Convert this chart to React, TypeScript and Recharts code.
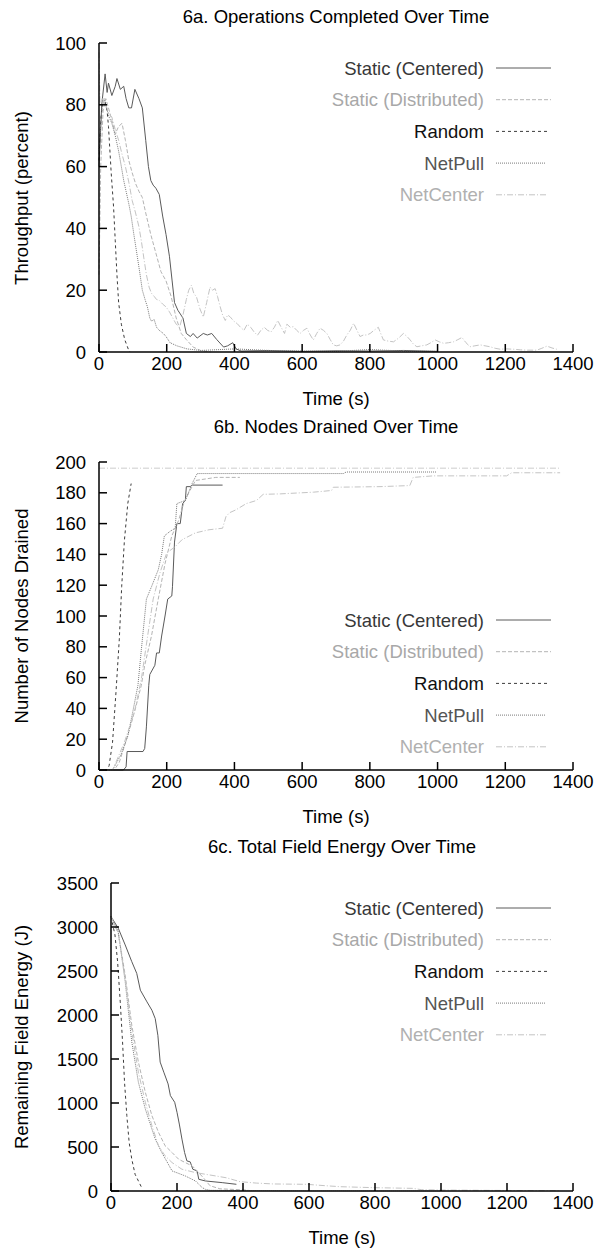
import React from "react";
import { LineChart, Line, XAxis, YAxis, Legend, ReferenceLine } from "recharts";

const FONT = '"Liberation Sans", Arial, Helvetica, sans-serif';
const FS = 18.5;

// axis ticks
const timeTicks = [0, 200, 400, 600, 800, 1000, 1200, 1400];
const opsTicks = [0, 20, 40, 60, 80, 100];
const nodeTicks = [0, 20, 40, 60, 80, 100, 120, 140, 160, 180, 200];
const energyTicks = [0, 500, 1000, 1500, 2000, 2500, 3000, 3500];

const seriesNames = ["Static (Centered)", "Static (Distributed)", "Random", "NetPull", "NetCenter"];

// 6a. throughput (percent), [time, value]
const opsStaticCentered = [
  [0, 60], [8, 80], [18, 90], [24, 84], [28, 87], [38, 83], [48, 86], [53, 88.5], [63, 85], [73, 86],
  [80, 82], [88, 79], [96, 79], [106, 85], [118, 82], [128, 79], [138, 68.5], [146, 60], [153, 55.5],
  [160, 54], [168, 53], [178, 51], [188, 44], [198, 38], [208, 31], [216, 23], [223, 16], [233, 13.5],
  [248, 11], [258, 6], [270, 5], [278, 6], [290, 4.5], [308, 6], [320, 5.5], [333, 6], [348, 4],
  [368, 1.6], [380, 2], [395, 3], [405, 1], [420, 0.3], [500, 0.5], [600, 0.2], [700, 0.4],
  [800, 0.3], [900, 0.5], [1000, 0.2],
];
const opsStaticDistributed = [
  [0, 25], [5, 60], [12, 78], [20, 82], [28, 79], [38, 75], [48, 70.6], [58, 73], [68, 74], [78, 68.5],
  [88, 62], [98, 58], [108, 54.5], [118, 52], [128, 50], [138, 45], [153, 38], [168, 32], [183, 26],
  [198, 23], [213, 18], [228, 11], [243, 6], [258, 4], [278, 1.6], [300, 0.5], [330, 0],
];
const opsRandom = [
  [0, 62], [5, 75], [10, 80], [18, 81], [24, 78], [28, 73], [36, 58], [43, 47], [48, 36], [53, 25],
  [58, 16], [66, 9], [76, 4], [88, 0.5], [92, 0],
];
const opsNetPull = [
  [0, 65], [8, 78], [15, 82], [22, 79], [30, 76], [38, 74], [48, 70], [58, 65], [66, 60], [73, 55.5],
  [80, 52], [88, 48], [95, 44], [103, 38], [113, 31], [120, 26], [128, 20], [136, 17], [143, 14.6],
  [150, 11], [155, 10], [163, 10.5], [170, 8], [178, 7], [190, 6], [198, 5], [210, 3], [230, 2],
  [260, 1], [300, 0.5], [400, 1], [500, 0.5], [600, 0.3], [700, 0.2], [800, 0.8], [900, 0.3], [1000, 0.2],
];
const opsNetCenter = [
  [0, 97], [3, 80], [10, 82], [20, 80], [30, 77], [38, 76], [48, 72], [58, 68.5], [68, 64], [78, 60],
  [88, 55], [98, 49], [108, 45], [118, 40.5], [125, 36], [133, 30], [140, 25], [148, 21], [155, 19],
  [163, 18], [170, 17], [178, 16.7], [188, 15.5], [198, 14.6], [208, 13], [218, 11], [228, 9], [238, 8],
  [248, 12], [258, 17], [265, 20], [273, 21.6], [280, 19], [288, 17.8], [298, 14], [308, 11.3],
  [318, 16], [328, 21], [335, 20], [343, 20.5], [350, 18], [358, 14.6], [365, 12], [373, 10.2],
  [380, 12], [388, 11.3], [398, 10], [408, 9.2], [418, 8], [428, 7], [438, 9], [448, 8], [458, 6.5],
  [468, 5.4], [478, 7], [488, 8], [498, 7], [508, 6.5], [518, 8], [528, 10.2], [538, 8], [548, 6],
  [555, 9], [565, 8], [574, 8.2], [584, 7], [594, 6], [604, 7], [614, 7.7], [624, 5.5], [633, 3.9],
  [643, 6], [653, 7.7], [663, 7], [673, 6], [683, 4], [692, 2.3], [702, 2], [712, 2.3], [722, 3.5],
  [732, 5.5], [742, 7], [752, 9.3], [762, 7], [771, 5], [781, 5.5], [791, 5.5], [801, 6], [812, 7],
  [825, 8], [832, 6], [840, 3.9], [855, 3.5], [870, 3.3], [885, 4.5], [899, 6], [910, 5], [919, 3.9],
  [929, 2.5], [939, 1.7], [953, 2], [968, 2.3], [980, 3], [993, 3.9], [1005, 3.3], [1018, 2.8],
  [1032, 3], [1047, 3.3], [1060, 4], [1072, 4.7], [1084, 3], [1096, 1.7], [1110, 2], [1126, 2.3],
  [1140, 2], [1155, 1.7], [1170, 1.2], [1185, 0.9], [1205, 1], [1224, 0.9], [1245, 0.7], [1264, 0.6],
  [1293, 0.6], [1308, 1.2], [1323, 1.9], [1338, 1.3], [1352, 0.9],
];

// 6b. nodes drained
const nodesStaticCentered = [
  [0, 0], [72, 0], [80, 2], [83, 12], [130, 12], [135, 14], [140, 28], [147, 55], [150, 62], [165, 68],
  [170, 76], [178, 76], [185, 87], [195, 100], [203, 111], [215, 113], [217, 119], [223, 148],
  [230, 160], [240, 160], [247, 173], [255, 175], [258, 184], [270, 184], [275, 185], [365, 185],
];
const nodesStaticDistributed = [
  [0, 0], [45, 0], [60, 5], [80, 19], [95, 30], [110, 42], [125, 55], [135, 68], [155, 87], [175, 111],
  [195, 134], [215, 152], [235, 162], [250, 173], [265, 180], [275, 184], [285, 188], [315, 189],
  [345, 190], [416, 190],
];
const nodesRandom = [
  [0, 0], [25, 0], [30, 3], [40, 18], [50, 50], [60, 85], [67, 119], [75, 149], [85, 173], [95, 186],
];
const nodesNetPull = [
  [0, 0], [40, 0], [45, 2], [65, 10], [85, 22], [100, 38], [115, 55], [125, 78], [140, 111], [155, 119],
  [175, 130], [185, 140], [193, 152], [210, 155], [225, 157], [230, 173], [255, 175], [275, 186],
  [290, 192.5], [722, 192.5], [730, 193.5], [997, 193.5],
];
const nodesNetCenter = [
  [0, 0], [40, 0], [50, 5], [75, 18], [105, 38], [125, 59], [145, 89], [160, 111], [180, 128],
  [200, 141], [225, 145], [245, 149.5], [285, 154], [325, 156], [365, 157], [375, 164.5], [385, 167],
  [405, 169], [435, 173], [465, 175], [485, 179], [535, 179.3], [633, 180.4], [687, 181.5],
  [692, 183.6], [830, 184], [918, 184.7], [928, 190], [987, 191], [1204, 191], [1219, 193], [1362, 193],
];
const totalNodes = 196;
const totalNodesEnd = 1362;

// 6c. remaining field energy (J)
const energyStaticCentered = [
  [0, 3119], [22, 2986], [43, 2796], [63, 2606], [78, 2473], [89, 2282], [109, 2149], [124, 2054],
  [134, 1959], [142, 1769], [149, 1465], [160, 1350], [173, 1217], [180, 1084], [193, 1008], [200, 894],
  [207, 761], [215, 590], [223, 437], [230, 342], [240, 331], [248, 247], [261, 228], [266, 133],
  [286, 114], [337, 95], [380, 76],
];
const energyStaticDistributed = [
  [0, 3119], [22, 2929], [43, 2453], [63, 1883], [83, 1465], [104, 1122], [124, 856], [144, 666],
  [164, 514], [185, 437], [205, 361], [225, 323], [246, 285], [256, 247], [280, 150], [300, 60],
  [330, 25], [416, 10],
];
const energyRandom = [
  [0, 3119], [12, 2910], [20, 2606], [28, 2149], [35, 1693], [41, 1236], [48, 856], [55, 552],
  [63, 361], [73, 190], [83, 114], [93, 38],
];
const energyNetPull = [
  [0, 3119], [22, 2948], [43, 2378], [63, 1693], [83, 1236], [104, 932], [124, 704], [134, 590],
  [154, 437], [170, 330], [185, 228], [205, 200], [225, 171], [256, 114], [276, 40], [286, 19],
  [300, 8], [400, 5], [600, 3], [800, 2], [997, 1],
];
const energyNetCenter = [
  [0, 3119], [22, 2929], [43, 2416], [63, 1807], [83, 1350], [104, 1008], [124, 742], [144, 514],
  [164, 400], [185, 323], [215, 247], [256, 209], [317, 171], [350, 150], [391, 106], [440, 90],
  [492, 80], [593, 76], [650, 60], [694, 49], [795, 38], [916, 30], [940, 15], [997, 11], [1100, 8],
  [1300, 4], [1362, 3],
];

const seriesStyle = [
  { stroke: "#5a5a5a", dash: undefined, text: "#383838", end: 551 },
  { stroke: "#b4b4b4", dash: "4 2", text: "#a8a8a8", end: 551 },
  { stroke: "#3c3c3c", dash: "3 3", text: "#111111", end: 547 },
  { stroke: "#7a7a7a", dash: "1 1", text: "#555555", end: 546 },
  { stroke: "#c4c4c4", dash: "6 2 1 2", text: "#b0b0b0", end: 548 },
];

const toRows = (pts: number[][]) => pts.map(([t, v]) => ({ t, v }));

const BottomTick = (p: any) => (
  <g>
    <line x1={p.x} y1={p.y} x2={p.x} y2={p.y - 8} stroke="#000" strokeWidth={1.5} />
    <text x={p.x} y={p.y + 11} textAnchor="middle" dominantBaseline="central" fontSize={FS} fontFamily={FONT} fill="#000">
      {p.payload.value}
    </text>
  </g>
);

const LeftTick = (p: any) => (
  <g>
    <line x1={p.x} y1={p.y} x2={p.x + 8} y2={p.y} stroke="#000" strokeWidth={1.5} />
    <text x={p.x - 13} y={p.y} textAnchor="end" dominantBaseline="central" fontSize={FS} fontFamily={FONT} fill="#000">
      {p.payload.value}
    </text>
  </g>
);

// keep the gnuplot key order, whatever order the payload comes in
const makeLegend = (props: any) => {
  const payload = props.payload || [];
  const present = new Set(payload.map((e: any) => e.value));
  const names = seriesNames.filter((n) => present.has(n));
  return (
    <svg width={609} height={170} style={{ display: "block" }}>
      {names.map((name, i) => {
        const st = seriesStyle[seriesNames.indexOf(name)];
        const y = 16 + i * 31.7;
        return (
          <g key={name}>
            <text x={484} y={y} textAnchor="end" dominantBaseline="central" fontSize={FS} fontFamily={FONT} fill={st.text}>
              {name}
            </text>
            <line x1={496} x2={st.end} y1={y} y2={y} stroke={st.stroke} strokeDasharray={st.dash} />
          </g>
        );
      })}
    </svg>
  );
};

type PanelProps = {
  top: number;
  height: number;
  plotTop: number;
  plotBottom: number;
  plotLeft: number;
  title: string;
  yLabel: string;
  yTicks: number[];
  series: number[][][];
  legendTop: number;
  refLine?: { y: number; end: number };
};

const PLOT_RIGHT = 573;

const Panel = ({ top, height, plotTop, plotBottom, plotLeft, title, yLabel, yTicks, series, legendTop, refLine }: PanelProps) => {
  const yMax = yTicks[yTicks.length - 1];
  const cx = (plotLeft + PLOT_RIGHT) / 2;
  const textStyle: React.CSSProperties = {
    position: "absolute",
    fontFamily: FONT,
    fontSize: FS,
    lineHeight: "19px",
    whiteSpace: "nowrap",
    color: "#000",
  };
  return (
    <div style={{ position: "absolute", left: 0, top, width: 609, height }}>
      <LineChart
        width={609}
        height={height}
        margin={{ top: plotTop, right: 609 - PLOT_RIGHT, bottom: 0, left: 0 }}
      >
        <XAxis
          xAxisId="b"
          type="number"
          dataKey="t"
          domain={[0, 1400]}
          ticks={timeTicks}
          interval={0}
          height={height - plotBottom}
          tickSize={0}
          tickMargin={0}
          tickLine={false}
          axisLine={{ stroke: "#000", strokeWidth: 1.5 }}
          tick={BottomTick}
        />
        <XAxis
          xAxisId="top"
          orientation="top"
          type="number"
          domain={[0, 1400]}
          ticks={timeTicks}
          interval={0}
          height={0}
          mirror
          tick={false}
          tickSize={8}
          tickLine={{ stroke: "#000", strokeWidth: 1.5 }}
          axisLine={{ stroke: "#000", strokeWidth: 1.5 }}
        />
        <YAxis
          yAxisId="l"
          type="number"
          domain={[0, yMax]}
          ticks={yTicks}
          interval={0}
          width={plotLeft}
          tickSize={0}
          tickMargin={0}
          tickLine={false}
          axisLine={{ stroke: "#000", strokeWidth: 1.5 }}
          tick={LeftTick}
        />
        <YAxis
          yAxisId="r"
          orientation="right"
          type="number"
          domain={[0, yMax]}
          ticks={yTicks}
          interval={0}
          width={0}
          mirror
          tick={false}
          tickSize={8}
          tickLine={{ stroke: "#000", strokeWidth: 1.5 }}
          axisLine={{ stroke: "#000", strokeWidth: 1.5 }}
        />
        {refLine && (
          <ReferenceLine
            xAxisId="b"
            yAxisId="l"
            segment={[{ x: 0, y: refLine.y }, { x: refLine.end, y: refLine.y }]}
            stroke="#cccccc"
            strokeDasharray="6 2 1 2"
            strokeWidth={1}
          />
        )}
        {series.map((pts, i) => (
          <Line
            key={seriesNames[i]}
            xAxisId="b"
            yAxisId="l"
            name={seriesNames[i]}
            data={toRows(pts)}
            dataKey="v"
            type="linear"
            stroke={seriesStyle[i].stroke}
            strokeDasharray={seriesStyle[i].dash}
            strokeWidth={1}
            dot={false}
            activeDot={false}
            isAnimationActive={false}
          />
        ))}
        <Legend
          layout="horizontal"
          verticalAlign="middle"
          align="center"
          content={makeLegend}
          wrapperStyle={{ left: 0, top: legendTop, width: 609, height: 170 }}
        />
      </LineChart>
      <div style={{ ...textStyle, left: cx, top: 16, transform: "translate(-50%, -50%)" }}>{title}</div>
      <div style={{ ...textStyle, left: cx, top: plotBottom + 46, transform: "translate(-50%, -50%)" }}>Time (s)</div>
      <div
        style={{
          ...textStyle,
          left: 21,
          top: (plotTop + plotBottom) / 2,
          transform: "translate(-50%, -50%) rotate(-90deg)",
        }}
      >
        {yLabel}
      </div>
    </div>
  );
};

export default function App() {
  return (
    <div style={{ position: "absolute", left: 0, top: 0, width: 609, height: 1251, background: "#fff" }}>
      <Panel
        top={0}
        height={410}
        plotTop={43}
        plotBottom={352}
        plotLeft={99}
        title="6a. Operations Completed Over Time"
        yLabel="Throughput (percent)"
        yTicks={opsTicks}
        series={[opsStaticCentered, opsStaticDistributed, opsRandom, opsNetPull, opsNetCenter]}
        legendTop={52}
      />
      <Panel
        top={410}
        height={420}
        plotTop={52}
        plotBottom={360}
        plotLeft={99}
        title="6b. Nodes Drained Over Time"
        yLabel="Number of Nodes Drained"
        yTicks={nodeTicks}
        series={[nodesStaticCentered, nodesStaticDistributed, nodesRandom, nodesNetPull, nodesNetCenter]}
        legendTop={194}
        refLine={{ y: totalNodes, end: totalNodesEnd }}
      />
      <Panel
        top={830}
        height={421}
        plotTop={53}
        plotBottom={361}
        plotLeft={111}
        title="6c. Total Field Energy Over Time"
        yLabel="Remaining Field Energy (J)"
        yTicks={energyTicks}
        series={[energyStaticCentered, energyStaticDistributed, energyRandom, energyNetPull, energyNetCenter]}
        legendTop={62}
      />
    </div>
  );
}
